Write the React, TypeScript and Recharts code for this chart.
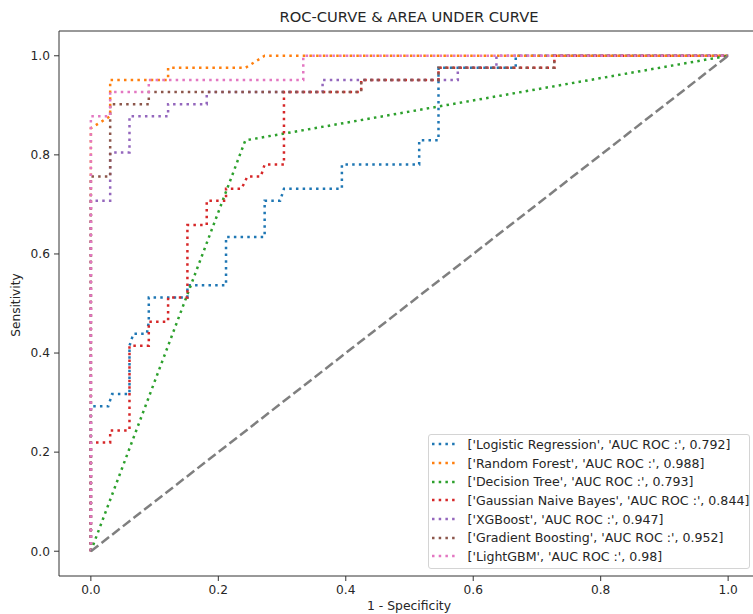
import React from 'react';
import { LineChart, Line, XAxis, YAxis, Legend, ReferenceLine } from 'recharts';

const modelNames = [
  'Logistic Regression',
  'Random Forest',
  'Decision Tree',
  'Gaussian Naive Bayes',
  'XGBoost',
  'Gradient Boosting',
  'LightGBM',
];
const aucValues = ['0.792', '0.988', '0.793', '0.844', '0.947', '0.952', '0.98'];
const seriesColors = ['#1f77b4', '#ff7f0e', '#2ca02c', '#d62728', '#9467bd', '#8c564b', '#e377c2'];

const lrFpr = [0, 0, 0.0273, 0.0333, 0.0606, 0.0606, 0.0667, 0.0879, 0.0909, 0.0909, 0.1515, 0.1515, 0.2121, 0.2121, 0.2727, 0.2727, 0.297, 0.303, 0.3939, 0.3939, 0.5152, 0.5152, 0.5455, 0.5455, 0.6667, 0.6667, 1];
const lrTpr = [0, 0.2927, 0.2927, 0.3171, 0.3171, 0.4146, 0.439, 0.439, 0.4634, 0.5122, 0.5122, 0.5366, 0.5366, 0.6341, 0.6341, 0.7073, 0.7073, 0.7317, 0.7317, 0.7805, 0.7805, 0.8293, 0.8293, 0.9756, 0.9756, 1, 1];

const rfFpr = [0, 0, 0.0303, 0.0303, 0.1212, 0.1212, 0.2424, 0.2727, 1];
const rfTpr = [0, 0.8537, 0.878, 0.9512, 0.9512, 0.9756, 0.9756, 1, 1];

const dtFpr = [0, 0.2424, 1];
const dtTpr = [0, 0.8293, 1];

const gnbFpr = [0, 0, 0.0303, 0.0303, 0.0606, 0.0606, 0.0909, 0.0909, 0.1212, 0.1212, 0.1515, 0.1515, 0.1818, 0.1818, 0.2121, 0.2121, 0.2364, 0.2455, 0.2667, 0.2727, 0.303, 0.303, 0.4242, 0.4242, 0.5455, 0.5455, 0.7273, 0.7273, 1];
const gnbTpr = [0, 0.2195, 0.2195, 0.2439, 0.2439, 0.4146, 0.4146, 0.4634, 0.4634, 0.5122, 0.5122, 0.6585, 0.6585, 0.7073, 0.7073, 0.7317, 0.7317, 0.7561, 0.7561, 0.7805, 0.7805, 0.9268, 0.9268, 0.9512, 0.9512, 0.9756, 0.9756, 1, 1];

const xgbFpr = [0, 0, 0.0303, 0.0303, 0.0606, 0.0606, 0.1212, 0.1212, 0.1818, 0.1818, 0.3636, 0.3636, 0.5758, 0.5758, 0.6364, 0.6364, 1];
const xgbTpr = [0, 0.7073, 0.7073, 0.8049, 0.8049, 0.878, 0.878, 0.9024, 0.9024, 0.9268, 0.9268, 0.9512, 0.9512, 0.9756, 0.9756, 1, 1];

const gbFpr = [0, 0, 0.0303, 0.0303, 0.0909, 0.0909, 0.4242, 0.4242, 0.5455, 0.5455, 0.7273, 0.7273, 1];
const gbTpr = [0, 0.7561, 0.7561, 0.9024, 0.9024, 0.9268, 0.9268, 0.9512, 0.9512, 0.9756, 0.9756, 1, 1];

const lgbmFpr = [0, 0, 0.0303, 0.0303, 0.0909, 0.0909, 0.3333, 0.3333, 1];
const lgbmTpr = [0, 0.878, 0.878, 0.9268, 0.9268, 0.9512, 0.9512, 1, 1];

const diagFpr = [0, 1];
const diagTpr = [0, 1];

const axisTicks = [0, 0.2, 0.4, 0.6, 0.8, 1.0];

const allFpr = [lrFpr, rfFpr, dtFpr, gnbFpr, xgbFpr, gbFpr, lgbmFpr];
const allTpr = [lrTpr, rfTpr, dtTpr, gnbTpr, xgbTpr, gbTpr, lgbmTpr];

const toPoints = (xs: number[], ys: number[]) => xs.map((x, i) => ({ x, y: ys[i] }));
const legendLabel = (i: number) => `['${modelNames[i]}', 'AUC ROC :', ${aucValues[i]}]`;

const TEXT = '#262626';
const SPINE = '#333333';
const FONT = '"DejaVu Sans", sans-serif';

const tickStyle = { fontSize: 12.2, fill: TEXT, fontFamily: FONT };

const renderLegend = (props: any) => {
  const payload = (props.payload || []).filter((p: any) => p.type !== 'none');
  // keep the plotting order of the series
  const items = modelNames
    .map((_, i) => payload.find((p: any) => p.value === legendLabel(i)))
    .filter(Boolean);
  return (
    <div
      style={{
        boxSizing: 'border-box',
        width: 322,
        height: 135,
        border: '1px solid #d4d4d4',
        borderRadius: 3,
        background: 'rgba(255,255,255,0.8)',
        fontFamily: FONT,
        fontSize: 12.6,
        color: TEXT,
      }}
    >
      {items.map((it: any, i: number) => (
        <div key={i} style={{ height: 18.7, display: 'flex', alignItems: 'center', whiteSpace: 'nowrap' }}>
          <svg width={24} height={6} style={{ marginLeft: 3, marginRight: 11.5, flex: 'none' }}>
            <line x1={0} y1={3} x2={24} y2={3} stroke={it.color} strokeWidth={2.5} strokeDasharray="2.5 4.2" />
          </svg>
          <span>{it.value}</span>
        </div>
      ))}
    </div>
  );
};

export default function App() {
  return (
    <div
      style={{
        position: 'absolute',
        left: 0,
        top: 0,
        width: 753,
        height: 614,
        overflow: 'hidden',
        background: '#fff',
        fontFamily: FONT,
      }}
    >
      <LineChart width={781} height={614} margin={{ top: 31, right: 21, bottom: 0, left: 0 }}>
        <XAxis
          type="number"
          dataKey="x"
          domain={[-0.05, 1.05]}
          ticks={axisTicks}
          interval={0}
          allowDataOverflow
          tickFormatter={(v: number) => v.toFixed(1)}
          height={38}
          tickSize={5}
          tickMargin={4}
          stroke={SPINE}
          tick={tickStyle}
        />
        <YAxis
          type="number"
          dataKey="y"
          domain={[-0.05, 1.05]}
          ticks={axisTicks}
          interval={0}
          allowDataOverflow
          tickFormatter={(v: number) => v.toFixed(1)}
          width={59}
          tickSize={5}
          tickMargin={4}
          stroke={SPINE}
          tick={tickStyle}
        />
        <ReferenceLine y={1.05} stroke={SPINE} strokeWidth={1} />
        {modelNames.map((name, i) => (
          <Line
            key={name}
            data={toPoints(allFpr[i], allTpr[i])}
            dataKey="y"
            name={legendLabel(i)}
            type="linear"
            stroke={seriesColors[i]}
            strokeWidth={2.5}
            strokeDasharray="2.5 4.2"
            dot={false}
            activeDot={false}
            isAnimationActive={false}
          />
        ))}
        <Line
          data={toPoints(diagFpr, diagTpr)}
          dataKey="y"
          name="diagonal"
          type="linear"
          stroke="#7f7f7f"
          strokeWidth={2.5}
          strokeDasharray="9.5 4"
          dot={false}
          activeDot={false}
          legendType="none"
          isAnimationActive={false}
        />
        <Legend
          layout="vertical"
          align="center"
          verticalAlign="middle"
          content={renderLegend}
          wrapperStyle={{ left: 428, top: 434, width: 322, height: 135 }}
        />
      </LineChart>
      <div
        style={{
          position: 'absolute',
          left: 59,
          width: 700,
          top: 10.3,
          textAlign: 'center',
          fontSize: 14.7,
          lineHeight: '14.7px',
          color: TEXT,
          whiteSpace: 'nowrap',
        }}
      >
        ROC-CURVE &amp; AREA UNDER CURVE
      </div>
      <div
        style={{
          position: 'absolute',
          left: 59,
          width: 700,
          top: 599.5,
          textAlign: 'center',
          fontSize: 12.4,
          lineHeight: '12.4px',
          color: TEXT,
          whiteSpace: 'nowrap',
        }}
      >
        1 - Specificity
      </div>
      <div
        style={{
          position: 'absolute',
          left: 16.4 - 100,
          top: 305 - 6.1,
          width: 200,
          height: 12.2,
          textAlign: 'center',
          fontSize: 12.2,
          lineHeight: '12.2px',
          color: TEXT,
          whiteSpace: 'nowrap',
          transform: 'rotate(-90deg)',
        }}
      >
        Sensitivity
      </div>
    </div>
  );
}
